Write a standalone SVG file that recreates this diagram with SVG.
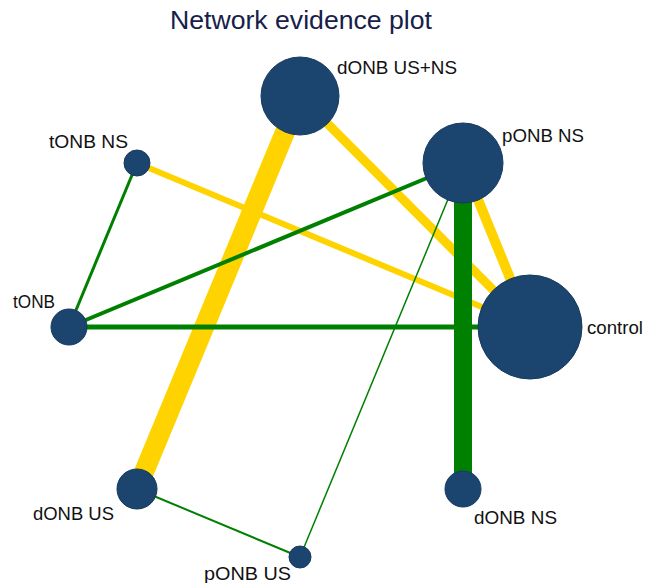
<svg xmlns="http://www.w3.org/2000/svg" width="646" height="583" viewBox="0 0 646 583">
<style>
.node{fill:#1b446e;stroke:#163a5f;stroke-width:1}
.lbl{font-family:"Liberation Sans",Arial,sans-serif;font-size:18px;fill:#111}
.y{stroke:#ffd300;fill:none}
.g{stroke:#008000;fill:none}
</style>
<rect width="646" height="583" fill="#fff"/>
<text x="170" y="29" font-family="'Liberation Sans',Arial,sans-serif" font-size="25" fill="#17204a" textLength="262" lengthAdjust="spacingAndGlyphs">Network evidence plot</text>
<g id="connectors">
<line class="y" x1="300" y1="96" x2="137" y2="489" stroke-width="20"/>
<line class="y" x1="300" y1="96" x2="530" y2="327" stroke-width="9"/>
<line class="y" x1="137" y1="163" x2="530" y2="327" stroke-width="6"/>
<line class="y" x1="463" y1="163" x2="530" y2="327" stroke-width="10"/>
<line class="g" x1="137" y1="163" x2="69" y2="327" stroke-width="3"/>
<line class="g" x1="69" y1="327" x2="463" y2="163" stroke-width="4"/>
<line class="g" x1="69" y1="327" x2="530" y2="327" stroke-width="5"/>
<line class="g" x1="463" y1="163" x2="300" y2="557" stroke-width="1.5"/>
<line class="g" x1="137" y1="489" x2="300" y2="557" stroke-width="2"/>
<line class="g" x1="463" y1="163" x2="463" y2="489" stroke-width="18"/>
</g>
<g id="dONB_US_NS"><circle class="node" cx="300" cy="96" r="39"/><text class="lbl" x="337" y="74" textLength="120" lengthAdjust="spacingAndGlyphs">dONB US+NS</text></g>
<g id="pONB_NS"><circle class="node" cx="463" cy="163" r="40"/><text class="lbl" x="502" y="142" textLength="82" lengthAdjust="spacingAndGlyphs">pONB NS</text></g>
<g id="tONB_NS"><circle class="node" cx="137" cy="163" r="13"/><text class="lbl" x="49" y="148" textLength="79" lengthAdjust="spacingAndGlyphs">tONB NS</text></g>
<g id="tONB"><circle class="node" cx="69" cy="327" r="18"/><text class="lbl" x="13" y="308" textLength="42" lengthAdjust="spacingAndGlyphs">tONB</text></g>
<g id="control"><circle class="node" cx="530" cy="327" r="52"/><text class="lbl" x="587" y="334" textLength="56" lengthAdjust="spacingAndGlyphs">control</text></g>
<g id="dONB_US"><circle class="node" cx="137" cy="489" r="20"/><text class="lbl" x="33" y="520" textLength="81" lengthAdjust="spacingAndGlyphs">dONB US</text></g>
<g id="dONB_NS"><circle class="node" cx="463" cy="489" r="18"/><text class="lbl" x="474" y="524" textLength="83" lengthAdjust="spacingAndGlyphs">dONB NS</text></g>
<g id="pONB_US"><circle class="node" cx="300" cy="557" r="11"/><text class="lbl" x="204" y="580" textLength="87" lengthAdjust="spacingAndGlyphs">pONB US</text></g>
</svg>
